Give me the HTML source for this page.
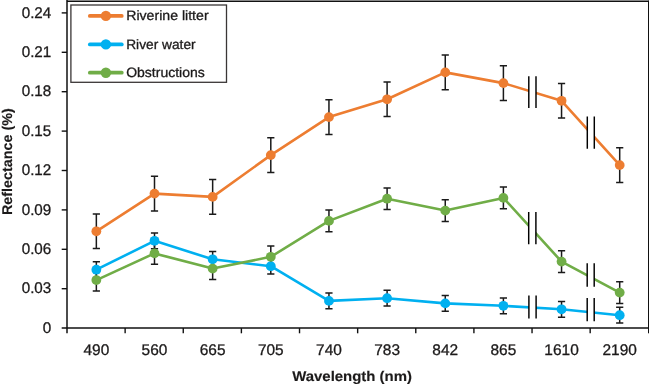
<!DOCTYPE html>
<html><head><meta charset="utf-8"><title>Reflectance chart</title>
<style>html,body{margin:0;padding:0;background:#fff}svg{display:block}text{font-family:"Liberation Sans",sans-serif;fill:#1c1a1a;text-rendering:geometricPrecision;stroke:#1c1a1a;stroke-width:.3px}.b{stroke-width:.15px}</style></head><body>
<svg width="649" height="385" viewBox="0 0 649 385">
<rect width="649" height="385" fill="#fff"/>
<g stroke="#111" stroke-width="1.5" fill="none">
<path d="M67.0 1.3H649" stroke-width="1.45"/>
<path d="M648.5 0.65V333.3" stroke-width="1"/>
<path d="M67.0 0V333.3"/>
<path d="M61.7 328.1H649"/>
</g>
<g stroke="#111" stroke-width="1.4">
<path d="M61.7 288.70H67.0"/>
<path d="M61.7 249.30H67.0"/>
<path d="M61.7 209.90H67.0"/>
<path d="M61.7 170.50H67.0"/>
<path d="M61.7 131.10H67.0"/>
<path d="M61.7 91.70H67.0"/>
<path d="M61.7 52.30H67.0"/>
<path d="M61.7 12.90H67.0"/>
<path d="M125.13 328.1V333.3"/>
<path d="M183.26 328.1V333.3"/>
<path d="M241.39 328.1V333.3"/>
<path d="M299.52 328.1V333.3"/>
<path d="M357.65 328.1V333.3"/>
<path d="M415.78 328.1V333.3"/>
<path d="M473.91 328.1V333.3"/>
<path d="M532.04 328.1V333.3"/>
<path d="M590.17 328.1V333.3"/>
</g>
<g stroke="#1a1a1a" stroke-width="1.5" fill="none">
<path d="M96.35 214.00V248.60M92.75 214.00h7.2M92.75 248.60h7.2"/>
<path d="M154.50 176.30V210.90M150.90 176.30h7.2M150.90 210.90h7.2"/>
<path d="M212.65 179.60V214.20M209.05 179.60h7.2M209.05 214.20h7.2"/>
<path d="M270.80 137.80V172.40M267.20 137.80h7.2M267.20 172.40h7.2"/>
<path d="M328.95 99.80V134.40M325.35 99.80h7.2M325.35 134.40h7.2"/>
<path d="M387.10 82.00V116.60M383.50 82.00h7.2M383.50 116.60h7.2"/>
<path d="M445.25 55.10V89.70M441.65 55.10h7.2M441.65 89.70h7.2"/>
<path d="M503.40 65.80V100.40M499.80 65.80h7.2M499.80 100.40h7.2"/>
<path d="M561.55 83.50V118.10M557.95 83.50h7.2M557.95 118.10h7.2"/>
<path d="M619.70 147.80V182.40M616.10 147.80h7.2M616.10 182.40h7.2"/>
<path d="M96.35 261.80V277.60M92.75 261.80h7.2M92.75 277.60h7.2"/>
<path d="M154.50 232.90V248.70M150.90 232.90h7.2M150.90 248.70h7.2"/>
<path d="M212.65 251.40V267.20M209.05 251.40h7.2M209.05 267.20h7.2"/>
<path d="M270.80 258.30V274.10M267.20 258.30h7.2M267.20 274.10h7.2"/>
<path d="M328.95 293.00V308.80M325.35 293.00h7.2M325.35 308.80h7.2"/>
<path d="M387.10 290.30V306.10M383.50 290.30h7.2M383.50 306.10h7.2"/>
<path d="M445.25 295.50V311.30M441.65 295.50h7.2M441.65 311.30h7.2"/>
<path d="M503.40 297.90V313.70M499.80 297.90h7.2M499.80 313.70h7.2"/>
<path d="M561.55 301.40V317.20M557.95 301.40h7.2M557.95 317.20h7.2"/>
<path d="M619.70 307.30V323.10M616.10 307.30h7.2M616.10 323.10h7.2"/>
<path d="M96.35 269.30V290.90M92.75 269.30h7.2M92.75 290.90h7.2"/>
<path d="M154.50 242.60V264.20M150.90 242.60h7.2M150.90 264.20h7.2"/>
<path d="M212.65 257.80V279.40M209.05 257.80h7.2M209.05 279.40h7.2"/>
<path d="M270.80 246.00V267.60M267.20 246.00h7.2M267.20 267.60h7.2"/>
<path d="M328.95 210.10V231.70M325.35 210.10h7.2M325.35 231.70h7.2"/>
<path d="M387.10 187.90V209.50M383.50 187.90h7.2M383.50 209.50h7.2"/>
<path d="M445.25 199.80V221.40M441.65 199.80h7.2M441.65 221.40h7.2"/>
<path d="M503.40 187.10V208.70M499.80 187.10h7.2M499.80 208.70h7.2"/>
<path d="M561.55 250.80V272.40M557.95 250.80h7.2M557.95 272.40h7.2"/>
<path d="M619.70 281.80V303.40M616.10 281.80h7.2M616.10 303.40h7.2"/>
</g>
<polyline points="96.35,231.30 154.50,193.60 212.65,196.90 270.80,155.10 328.95,117.10 387.10,99.30 445.25,72.40 503.40,83.10 561.55,100.80 619.70,165.10" fill="none" stroke="#ED7D31" stroke-width="2.6" stroke-linejoin="round" stroke-linecap="round"/>
<circle cx="96.35" cy="231.30" r="4.9" fill="#ED7D31"/>
<circle cx="154.50" cy="193.60" r="4.9" fill="#ED7D31"/>
<circle cx="212.65" cy="196.90" r="4.9" fill="#ED7D31"/>
<circle cx="270.80" cy="155.10" r="4.9" fill="#ED7D31"/>
<circle cx="328.95" cy="117.10" r="4.9" fill="#ED7D31"/>
<circle cx="387.10" cy="99.30" r="4.9" fill="#ED7D31"/>
<circle cx="445.25" cy="72.40" r="4.9" fill="#ED7D31"/>
<circle cx="503.40" cy="83.10" r="4.9" fill="#ED7D31"/>
<circle cx="561.55" cy="100.80" r="4.9" fill="#ED7D31"/>
<circle cx="619.70" cy="165.10" r="4.9" fill="#ED7D31"/>
<polyline points="96.35,269.70 154.50,240.80 212.65,259.30 270.80,266.20 328.95,300.90 387.10,298.20 445.25,303.40 503.40,305.80 561.55,309.30 619.70,315.20" fill="none" stroke="#00B0F0" stroke-width="2.6" stroke-linejoin="round" stroke-linecap="round"/>
<circle cx="96.35" cy="269.70" r="4.9" fill="#00B0F0"/>
<circle cx="154.50" cy="240.80" r="4.9" fill="#00B0F0"/>
<circle cx="212.65" cy="259.30" r="4.9" fill="#00B0F0"/>
<circle cx="270.80" cy="266.20" r="4.9" fill="#00B0F0"/>
<circle cx="328.95" cy="300.90" r="4.9" fill="#00B0F0"/>
<circle cx="387.10" cy="298.20" r="4.9" fill="#00B0F0"/>
<circle cx="445.25" cy="303.40" r="4.9" fill="#00B0F0"/>
<circle cx="503.40" cy="305.80" r="4.9" fill="#00B0F0"/>
<circle cx="561.55" cy="309.30" r="4.9" fill="#00B0F0"/>
<circle cx="619.70" cy="315.20" r="4.9" fill="#00B0F0"/>
<polyline points="96.35,280.10 154.50,253.40 212.65,268.60 270.80,256.80 328.95,220.90 387.10,198.70 445.25,210.60 503.40,197.90 561.55,261.60 619.70,292.60" fill="none" stroke="#70AD47" stroke-width="2.6" stroke-linejoin="round" stroke-linecap="round"/>
<circle cx="96.35" cy="280.10" r="4.9" fill="#70AD47"/>
<circle cx="154.50" cy="253.40" r="4.9" fill="#70AD47"/>
<circle cx="212.65" cy="268.60" r="4.9" fill="#70AD47"/>
<circle cx="270.80" cy="256.80" r="4.9" fill="#70AD47"/>
<circle cx="328.95" cy="220.90" r="4.9" fill="#70AD47"/>
<circle cx="387.10" cy="198.70" r="4.9" fill="#70AD47"/>
<circle cx="445.25" cy="210.60" r="4.9" fill="#70AD47"/>
<circle cx="503.40" cy="197.90" r="4.9" fill="#70AD47"/>
<circle cx="561.55" cy="261.60" r="4.9" fill="#70AD47"/>
<circle cx="619.70" cy="292.60" r="4.9" fill="#70AD47"/>
<rect x="528.8" y="76.2" width="7.20" height="31.10" fill="#fff"/>
<path d="M528.8 76.2V108.00M536.0 76.2V108.00" stroke="#000" stroke-width="1.45"/>
<rect x="587.3" y="116.6" width="7.00" height="31.50" fill="#fff"/>
<path d="M587.3 116.6V148.80M594.3 116.6V148.80" stroke="#000" stroke-width="1.45"/>
<rect x="528.7" y="211.9" width="7.20" height="31.70" fill="#fff"/>
<path d="M528.7 211.9V244.30M535.9 211.9V244.30" stroke="#000" stroke-width="1.45"/>
<rect x="587.2" y="263.2" width="7.00" height="22.90" fill="#fff"/>
<path d="M587.2 263.2V286.80M594.2 263.2V286.80" stroke="#000" stroke-width="1.45"/>
<rect x="528.9" y="295.4" width="7.20" height="22.40" fill="#fff"/>
<path d="M528.9 295.4V318.50M536.1 295.4V318.50" stroke="#000" stroke-width="1.45"/>
<rect x="587.2" y="298.1" width="7.00" height="22.40" fill="#fff"/>
<path d="M587.2 298.1V321.20M594.2 298.1V321.20" stroke="#000" stroke-width="1.45"/>
<rect x="70.9" y="5.0" width="155.6" height="77.3" fill="#fff" stroke="#3a3636" stroke-width="1.3"/>
<path d="M89.8 15.9H121.8" stroke="#ED7D31" stroke-width="3.7" stroke-linecap="round"/>
<circle cx="105.9" cy="15.9" r="5.2" fill="#ED7D31"/>
<text x="126.2" y="20.1" font-size="13.5" textLength="82.4" lengthAdjust="spacingAndGlyphs">Riverine litter</text>
<path d="M89.8 44.4H121.8" stroke="#00B0F0" stroke-width="3.7" stroke-linecap="round"/>
<circle cx="105.9" cy="44.4" r="5.2" fill="#00B0F0"/>
<text x="126.2" y="48.6" font-size="13.5" textLength="69.4" lengthAdjust="spacingAndGlyphs">River water</text>
<path d="M89.8 72.7H121.8" stroke="#70AD47" stroke-width="3.7" stroke-linecap="round"/>
<circle cx="105.9" cy="72.7" r="5.2" fill="#70AD47"/>
<text x="126.2" y="76.9" font-size="13.5" textLength="78.6" lengthAdjust="spacingAndGlyphs">Obstructions</text>
<text x="51.3" y="332.70" font-size="15.4" text-anchor="end" textLength="8.5" lengthAdjust="spacingAndGlyphs">0</text>
<text x="51.3" y="293.30" font-size="15.4" text-anchor="end" textLength="29.6" lengthAdjust="spacingAndGlyphs">0.03</text>
<text x="51.3" y="253.90" font-size="15.4" text-anchor="end" textLength="29.6" lengthAdjust="spacingAndGlyphs">0.06</text>
<text x="51.3" y="214.50" font-size="15.4" text-anchor="end" textLength="29.6" lengthAdjust="spacingAndGlyphs">0.09</text>
<text x="51.3" y="175.10" font-size="15.4" text-anchor="end" textLength="29.6" lengthAdjust="spacingAndGlyphs">0.12</text>
<text x="51.3" y="135.70" font-size="15.4" text-anchor="end" textLength="29.6" lengthAdjust="spacingAndGlyphs">0.15</text>
<text x="51.3" y="96.30" font-size="15.4" text-anchor="end" textLength="29.6" lengthAdjust="spacingAndGlyphs">0.18</text>
<text x="51.3" y="56.90" font-size="15.4" text-anchor="end" textLength="29.6" lengthAdjust="spacingAndGlyphs">0.21</text>
<text x="51.3" y="17.50" font-size="15.4" text-anchor="end" textLength="29.6" lengthAdjust="spacingAndGlyphs">0.24</text>
<text x="96.35" y="354.6" font-size="15.4" text-anchor="middle" textLength="25.8" lengthAdjust="spacingAndGlyphs">490</text>
<text x="154.50" y="354.6" font-size="15.4" text-anchor="middle" textLength="25.8" lengthAdjust="spacingAndGlyphs">560</text>
<text x="212.65" y="354.6" font-size="15.4" text-anchor="middle" textLength="25.8" lengthAdjust="spacingAndGlyphs">665</text>
<text x="270.80" y="354.6" font-size="15.4" text-anchor="middle" textLength="25.8" lengthAdjust="spacingAndGlyphs">705</text>
<text x="328.95" y="354.6" font-size="15.4" text-anchor="middle" textLength="25.8" lengthAdjust="spacingAndGlyphs">740</text>
<text x="387.10" y="354.6" font-size="15.4" text-anchor="middle" textLength="25.8" lengthAdjust="spacingAndGlyphs">783</text>
<text x="445.25" y="354.6" font-size="15.4" text-anchor="middle" textLength="25.8" lengthAdjust="spacingAndGlyphs">842</text>
<text x="503.40" y="354.6" font-size="15.4" text-anchor="middle" textLength="25.8" lengthAdjust="spacingAndGlyphs">865</text>
<text x="561.55" y="354.6" font-size="15.4" text-anchor="middle" textLength="34.4" lengthAdjust="spacingAndGlyphs">1610</text>
<text x="619.70" y="354.6" font-size="15.4" text-anchor="middle" textLength="34.4" lengthAdjust="spacingAndGlyphs">2190</text>
<text x="352.1" y="381.2" font-size="14.1" class="b" font-weight="bold" text-anchor="middle" textLength="119.8" lengthAdjust="spacingAndGlyphs">Wavelength (nm)</text>
<text transform="translate(11.9 161.7) rotate(-90)" font-size="14.1" class="b" font-weight="bold" text-anchor="middle" textLength="106.8" lengthAdjust="spacingAndGlyphs">Reflectance (%)</text>
</svg></body></html>
